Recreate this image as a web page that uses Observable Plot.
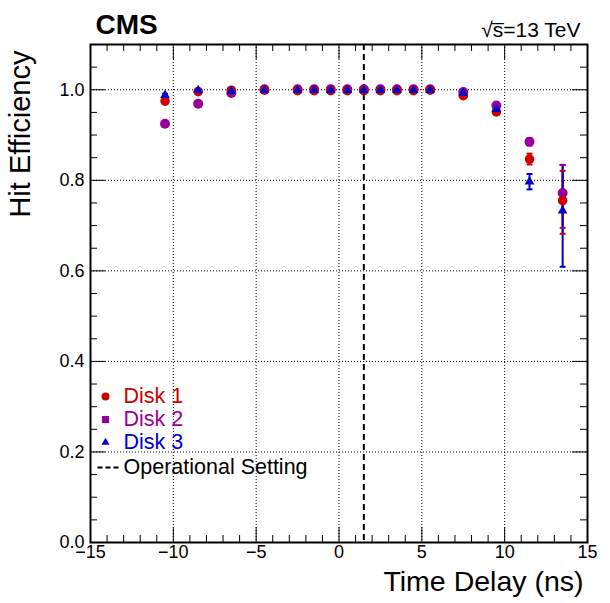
<!DOCTYPE html>
<html>
<head>
<meta charset="utf-8">
<script src="https://cdn.jsdelivr.net/npm/d3@7"></script>
<script src="https://cdn.jsdelivr.net/npm/@observablehq/plot@0.6"></script>
<style>
  html, body { margin: 0; padding: 0; background: white; }
</style>
</head>
<body>
<div id="chart"></div>
<script>
// ---- data ----
const timeDelay = [-10.5, -8.5, -6.5, -4.5, -2.5, -1.5, -0.5, 0.5, 1.5, 2.5, 3.5, 4.5, 5.5, 7.5, 9.5, 11.5, 13.5];
const disk1 = [0.975, 0.996, 0.999, 0.999, 0.998, 0.998, 0.998, 0.998, 0.998, 0.998, 0.998, 0.998, 0.999, 0.987, 0.951, 0.847, 0.755];
const disk2 = [0.925, 0.969, 0.993, 1.001, 1.001, 1.001, 1.001, 1.001, 1.001, 1.001, 1.001, 1.001, 1.001, 0.995, 0.965, 0.885, 0.772];
const disk3 = [0.988, 0.999, 0.997, 0.999, 0.999, 0.999, 0.999, 0.999, 0.999, 0.999, 0.999, 0.999, 0.999, 0.993, 0.957, 0.797, 0.733];
const disk1ErrLo = [0.003, 0.002, 0.001, 0.001, 0.001, 0.001, 0.001, 0.001, 0.001, 0.001, 0.001, 0.001, 0.001, 0.003, 0.004, 0.012, 0.073];
const disk1ErrHi = [0.003, 0.002, 0.001, 0.001, 0.001, 0.001, 0.001, 0.001, 0.001, 0.001, 0.001, 0.001, 0.001, 0.003, 0.004, 0.012, 0.066];
const disk2ErrLo = [0.004, 0.003, 0.002, 0.001, 0.001, 0.001, 0.001, 0.001, 0.001, 0.001, 0.001, 0.001, 0.001, 0.002, 0.004, 0.008, 0.077];
const disk2ErrHi = [0.004, 0.003, 0.002, 0.001, 0.001, 0.001, 0.001, 0.001, 0.001, 0.001, 0.001, 0.001, 0.001, 0.002, 0.004, 0.008, 0.062];
const disk3ErrLo = [0.003, 0.002, 0.002, 0.001, 0.001, 0.001, 0.001, 0.001, 0.001, 0.001, 0.001, 0.001, 0.001, 0.003, 0.005, 0.017, 0.124];
const disk3ErrHi = [0.003, 0.002, 0.002, 0.001, 0.001, 0.001, 0.001, 0.001, 0.001, 0.001, 0.001, 0.001, 0.001, 0.003, 0.005, 0.017, 0.101];
const operationalSetting = [1.5];
const xMajor = [-15, -10, -5, 0, 5, 10, 15];
const xMinor = [-14, -13, -12, -11, -9, -8, -7, -6, -4, -3, -2, -1, 1, 2, 3, 4, 6, 7, 8, 9, 11, 12, 13, 14];
const yMajor = [0, 0.2, 0.4, 0.6, 0.8, 1.0];
const yMinor = [0.05, 0.1, 0.15, 0.25, 0.3, 0.35, 0.45, 0.5, 0.55, 0.65, 0.7, 0.75, 0.85, 0.9, 0.95, 1.05];
const seriesNames = ["Disk 1", "Disk 2", "Disk 3"];
const seriesColors = ["#cc0000", "#990099", "#0000cc"];
const xTitle = "Time Delay (ns)";
const yTitle = "Hit Efficiency";
const cmsLabel = "CMS";
const energyLabel = "\u221As\u0305=13 TeV";
const opLabel = "Operational Setting";

// ---- layout ----
const W = 610, H = 603;
const mL = 90, mR = 23, mT = 44, mB = 61;
const fw = W - mL - mR, fh = H - mT - mB;
const font = "'Liberation Sans', Arial, Helvetica, sans-serif";

function rowsFor(vals, lo, hi) {
  return timeDelay.map((x, i) => ({x, y: vals[i], lo: vals[i] - lo[i], hi: vals[i] + hi[i]}));
}
const d1 = rowsFor(disk1, disk1ErrLo, disk1ErrHi);
const d2 = rowsFor(disk2, disk2ErrLo, disk2ErrHi);
const d3 = rowsFor(disk3, disk3ErrLo, disk3ErrHi);

const hline = {draw(ctx, size) { const w = Math.sqrt(size / Math.PI); ctx.moveTo(-w, 0); ctx.lineTo(w, 0); }};

function errRule(rows, color) {
  return Plot.ruleX(rows, {x: "x", y1: "lo", y2: "hi", stroke: color, strokeWidth: 2});
}
function errCaps(rows, color) {
  return [
    Plot.dot(rows, {x: "x", y: "lo", symbol: hline, r: 3, stroke: color, strokeWidth: 2, fill: "none"}),
    Plot.dot(rows, {x: "x", y: "hi", symbol: hline, r: 3, stroke: color, strokeWidth: 2, fill: "none"})
  ];
}

const tickW = 1;
const marks = [
  // grid
  Plot.gridX(xMajor, {stroke: "black", strokeOpacity: 1, strokeDasharray: "1,2", strokeWidth: 1}),
  Plot.gridY(yMajor, {stroke: "black", strokeOpacity: 1, strokeDasharray: "1,2", strokeWidth: 1}),
  // inward ticks: bottom/top
  Plot.ruleX(xMajor, {insetTop: fh - 15, stroke: "black", strokeWidth: tickW}),
  Plot.ruleX(xMinor, {insetTop: fh - 7, stroke: "black", strokeWidth: tickW}),
  Plot.ruleX(xMajor, {insetBottom: fh - 15, stroke: "black", strokeWidth: tickW}),
  Plot.ruleX(xMinor, {insetBottom: fh - 7, stroke: "black", strokeWidth: tickW}),
  // left/right
  Plot.ruleY(yMajor, {insetRight: fw - 15, stroke: "black", strokeWidth: tickW}),
  Plot.ruleY(yMinor, {insetRight: fw - 7, stroke: "black", strokeWidth: tickW}),
  Plot.ruleY(yMajor, {insetLeft: fw - 15, stroke: "black", strokeWidth: tickW}),
  Plot.ruleY(yMinor, {insetLeft: fw - 7, stroke: "black", strokeWidth: tickW}),
  // operational setting
  Plot.ruleX(operationalSetting, {stroke: "black", strokeWidth: 2, strokeDasharray: "6,4"}),
  // error bars
  errRule(d2, seriesColors[1]),
  errRule(d1, seriesColors[0]),
  errRule(d3, seriesColors[2]),
  ...errCaps(d3, seriesColors[2]),
  ...errCaps(d2, seriesColors[1]),
  ...errCaps(d1, seriesColors[0]),
  // markers
  Plot.dot(d2, {x: "x", y: "y", r: 5, fill: seriesColors[1], symbol: "circle"}),
  Plot.dot(d1, {x: "x", y: "y", r: 4.8, fill: seriesColors[0], symbol: "circle"}),
  Plot.dot(d3, {x: "x", y: "y", r: 3.6, fill: seriesColors[2], symbol: "triangle"}),
  // frame
  Plot.frame({stroke: "black", strokeWidth: 2}),
  // axis labels
  Plot.axisX({ticks: xMajor, tickSize: 0, tickPadding: 3, fontSize: 18, label: null,
    tickFormat: d => d < 0 ? "\u2212" + (-d) : String(d)}),
  Plot.axisY({ticks: yMajor, tickSize: 0, tickPadding: 6, fontSize: 18, label: null,
    tickFormat: d => d.toFixed(1)}),
  // titles
  Plot.text([xTitle], {text: d => d, frameAnchor: "bottom-right", textAnchor: "end", lineAnchor: "bottom", dx: -4, dy: 48, fontSize: 28.5, fill: "black"}),
  Plot.text([yTitle], {text: d => d, frameAnchor: "top-left", textAnchor: "end", lineAnchor: "bottom", rotate: -90, dx: -61, dy: 6, fontSize: 29, fill: "black"}),
  Plot.text([cmsLabel], {text: d => d, frameAnchor: "top-left", textAnchor: "start", lineAnchor: "bottom", dx: 5, dy: -11, fontSize: 28, fontWeight: "bold", fill: "black"}),
  Plot.text([energyLabel], {text: d => d, frameAnchor: "top-right", textAnchor: "end", lineAnchor: "bottom", dx: -7, dy: -8, fontSize: 21, fill: "black"}),
];

// legend
const legendRowsDy = [352, 375, 398];
const legendSymbols = ["circle", "square", "triangle"];
const legendR = [4, 4, 3];
seriesNames.forEach((name, i) => {
  marks.push(Plot.dot([name], {frameAnchor: "top-left", dx: 15, dy: legendRowsDy[i], r: legendR[i], symbol: legendSymbols[i], fill: seriesColors[i]}));
  marks.push(Plot.text([name], {text: d => d, frameAnchor: "top-left", dx: 33, dy: legendRowsDy[i], textAnchor: "start", lineAnchor: "middle", fontSize: 21.5, fill: seriesColors[i]}));
});
marks.push(Plot.dot([opLabel], {frameAnchor: "top-left", dx: 18, dy: 423, r: 11, symbol: hline, stroke: "black", strokeWidth: 2, strokeDasharray: "5,3", fill: "none"}));
marks.push(Plot.text([opLabel], {text: d => d, frameAnchor: "top-left", dx: 33, dy: 423, textAnchor: "start", lineAnchor: "middle", fontSize: 21.5, fill: "black"}));

const chart = Plot.plot({
  width: W, height: H,
  marginLeft: mL, marginRight: mR, marginTop: mT, marginBottom: mB,
  x: {domain: [-15, 15]},
  y: {domain: [0, 1.1]},
  style: {fontFamily: font, background: "white", color: "black", overflow: "visible"},
  marks
});
document.getElementById("chart").appendChild(chart);
</script>
</body>
</html>
